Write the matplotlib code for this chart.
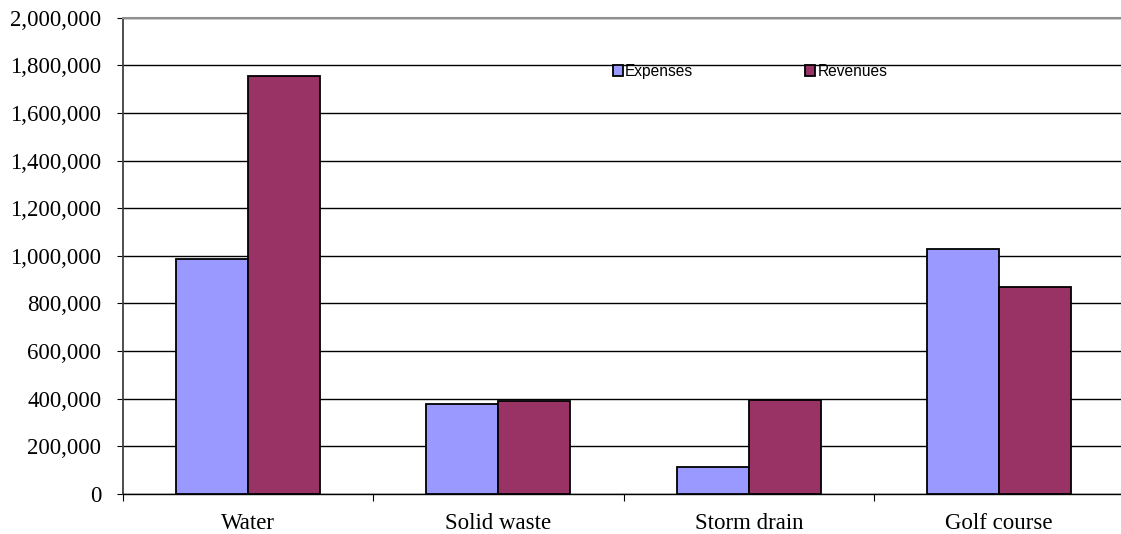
import numpy as np
import matplotlib.pyplot as plt
from matplotlib.ticker import FuncFormatter

categories = ["Water", "Solid waste", "Storm drain", "Golf course"]
expenses = [985000, 378000, 115000, 1030000]
revenues = [1755000, 392000, 395000, 869000]
yticks = np.arange(0, 2000001, 200000)

fig = plt.figure(figsize=(11.21, 5.34), dpi=100)
ax = fig.add_axes([0.1095, 0.0749, 0.8935, 0.892])

x = np.arange(len(categories))
w = 0.288
ax.bar(x - w/2, expenses, w, color="#9999FF", edgecolor="black", linewidth=1.3, label="Expenses", zorder=3)
ax.bar(x + w/2, revenues, w, color="#993366", edgecolor="black", linewidth=1.3, label="Revenues", zorder=3)

ax.set_xlim(-0.5, 3.5)
ax.set_ylim(0, 2000000)
ax.set_yticks(yticks)
ax.yaxis.set_major_formatter(FuncFormatter(lambda v, p: f"{int(v):,}"))
ax.yaxis.grid(True, color="black", linewidth=1.0, zorder=0)

# category boundaries as ticks, names on minor ticks
ax.set_xticks(np.arange(-0.5, 4, 1))
ax.set_xticklabels([])
ax.set_xticks(x, minor=True)
ax.set_xticklabels(categories, minor=True)
ax.tick_params(axis="x", which="major", length=4.8, direction="out", color="black")
ax.tick_params(axis="x", which="minor", length=0, pad=14)
ax.tick_params(axis="y", length=4.5, pad=11, color="black")

for lab in ax.get_xticklabels(minor=True) + ax.get_yticklabels():
    lab.set_family("Liberation Serif")
    lab.set_fontsize(16.5)

ax.spines["top"].set_color("#909090")
ax.spines["top"].set_linewidth(1.5)
ax.spines["right"].set_visible(False)
ax.spines["left"].set_color("#404040")
ax.spines["left"].set_linewidth(1.3)
ax.spines["bottom"].set_color("black")
ax.spines["bottom"].set_linewidth(1.0)

leg = ax.legend(loc="center", bbox_to_anchor=(0.669, 0.866), bbox_transform=fig.transFigure,
                ncol=2, frameon=False, handlelength=0.65, handleheight=0.65,
                handletextpad=0.15, columnspacing=7.2,
                prop={"family": "Liberation Sans", "size": 11.2})

fig.savefig("out.png", dpi=100)
